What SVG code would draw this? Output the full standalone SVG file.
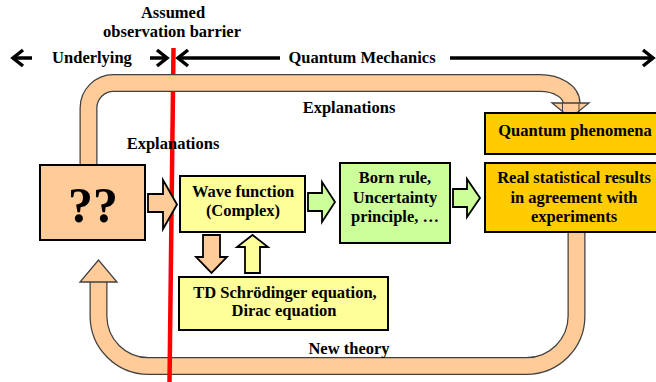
<svg xmlns="http://www.w3.org/2000/svg" width="656" height="382" viewBox="0 0 656 382">
<style>
text{font-family:"Liberation Serif","Times New Roman",serif;font-weight:bold;font-size:16.5px;fill:#000;text-anchor:middle}
.box{stroke:#000;stroke-width:2}
.peach{fill:#FFCC99}
.yellow{fill:#FFFF99}
.green{fill:#CCFF99}
.gold{fill:#FFCC00}
.bandO{fill:none;stroke:#404040;stroke-width:18}
.bandI{fill:none;stroke:#FFCC99;stroke-width:15.5}
.blk{stroke:#000;stroke-width:1.8;stroke-linejoin:miter}
.ahd{stroke:#404040;stroke-width:1.3;fill:#FFCC99}
.axis{stroke:#000;stroke-width:3.5;fill:none}
.chev{stroke:#000;stroke-width:3.5;fill:none;stroke-linejoin:miter;stroke-linecap:butt}
</style>

<g id="labels-top">
<text x="173" y="18">Assumed</text>
<text x="172" y="37">observation barrier</text>
<text x="92" y="63">Underlying</text>
<text x="362" y="63">Quantum Mechanics</text>
</g>

<g id="connectors">
<!-- axis arrows -->
<line class="axis" x1="13" y1="58" x2="32" y2="58"/>
<polyline class="chev" points="23,50 13,58 23,66"/>
<line class="axis" x1="150" y1="58" x2="166" y2="58"/>
<polyline class="chev" points="157,50 167,58 157,66"/>
<line class="axis" x1="179" y1="58" x2="280" y2="58"/>
<polyline class="chev" points="188,50 178,58 188,66"/>
<line class="axis" x1="450" y1="58" x2="652" y2="58"/>
<polyline class="chev" points="643,50 653,58 643,66"/>

<!-- bottom loop band (new theory) -->
<path class="bandO" d="M576.5 231 L576.5 316 A50 50 0 0 1 526.5 366 L148.5 366 A50 50 0 0 1 98.5 316 L98.5 281"/>
<path class="bandI" d="M576.5 231 L576.5 316 A50 50 0 0 1 526.5 366 L148.5 366 A50 50 0 0 1 98.5 316 L98.5 280"/>
<polygon class="ahd" points="80,282 117,282 98.5,260"/>

<!-- red barrier -->
<line x1="173.5" y1="48" x2="169.5" y2="382" stroke="#FF0000" stroke-width="4.5"/>

<!-- top loop band (explanations) -->
<path class="bandO" d="M88.5 166 L88.5 108 A25 25 0 0 1 113.5 83 L540 83 A31.5 20 0 0 1 571.5 103 L571.5 106"/>
<path class="bandI" d="M88.5 167 L88.5 108 A25 25 0 0 1 113.5 83 L540 83 A31.5 20 0 0 1 571.5 103 L571.5 107"/>
<polygon class="ahd" points="552,103 589,103 570.5,118"/>
<line x1="562.5" y1="103" x2="562.5" y2="114" stroke="#404040" stroke-width="1"/>
<line x1="579" y1="103" x2="579" y2="114" stroke="#404040" stroke-width="1"/>

<!-- block arrows -->
<polygon class="blk peach" points="148,194 163,194 163,180 177,204.5 163,229 163,212 148,212"/>
<polygon class="blk green" points="308,193 322,193 322,182 335,202 322,222 322,211 308,211"/>
<polygon class="blk green" points="453,189 467,189 467,179 480,198 467,217 467,207 453,207"/>
<polygon class="blk peach" points="203,235 220,235 220,257 227,257 211.5,273 196,257 203,257"/>
<polygon class="blk yellow" points="252.5,235 268,247 260,247 260,273 245,273 245,247 237,247"/>
</g>

<g id="labels-mid">
<text x="349" y="113">Explanations</text>
<text x="173" y="149">Explanations</text>
<text x="349" y="354">New theory</text>
</g>

<g id="node-unknown">
<rect class="box peach" x="40" y="165" width="105" height="75"/>
<text x="93" y="222" style="font-size:50px">??</text>
</g>

<g id="node-wave">
<rect class="box yellow" x="180" y="176" width="125" height="56"/>
<text x="243" y="197">Wave function</text>
<text x="243" y="216">(Complex)</text>
</g>

<g id="node-born">
<rect class="box green" x="340" y="163" width="110" height="80"/>
<text x="395" y="183">Born rule,</text>
<text x="395" y="203">Uncertainty</text>
<text x="395" y="222">principle, …</text>
</g>

<g id="node-phenomena">
<rect class="box gold" x="485" y="113" width="180" height="41"/>
<text x="575" y="136">Quantum phenomena</text>
</g>

<g id="node-results">
<rect class="box gold" x="485" y="163" width="180" height="69"/>
<text x="574" y="183">Real statistical results</text>
<text x="574" y="203">in agreement with</text>
<text x="574" y="222">experiments</text>
</g>

<g id="node-schrodinger">
<rect class="box yellow" x="179" y="277" width="209" height="53"/>
<text x="285" y="298">TD Schrödinger equation,</text>
<text x="284" y="316">Dirac equation</text>
</g>
</svg>
